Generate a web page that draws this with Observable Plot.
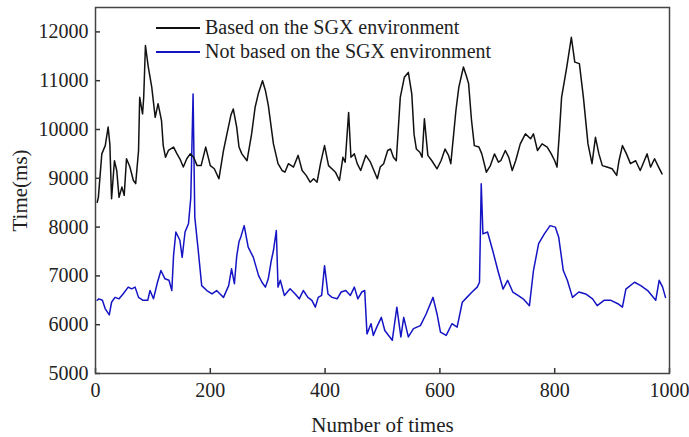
<!DOCTYPE html>
<html>
<head>
<meta charset="utf-8">
<script src="https://cdn.jsdelivr.net/npm/d3@7"></script>
<script src="https://cdn.jsdelivr.net/npm/@observablehq/plot@0.6"></script>
<style>
  body { margin: 0; background: #fff; }
  #wrap { position: relative; width: 689px; height: 437px; font-family: "Liberation Serif", "Times New Roman", serif; }
  .leg { position: absolute; left: 156px; display: flex; align-items: center; font-size: 20px; color: #222; white-space: nowrap; }
  .leg span.sw { display: inline-block; width: 44px; height: 0; border-top: 2px solid; margin-right: 5px; }
</style>
</head>
<body>
<div id="wrap"></div>
<script>
const seriesNames = ["Based on the SGX environment", "Not based on the SGX environment"];
const seriesColors = ["#111111", "#1414c4"];
const xTicks = [0, 200, 400, 600, 800, 1000];
const yTicks = [5000, 6000, 7000, 8000, 9000, 10000, 11000, 12000];

// [number of times, time in ms]
const sgx = [[3,8510],[5,8610],[11,9500],[17,9670],[22,10050],[25,9700],[28,8580],[33,9360],[37,9160],[41,8610],[46,8820],[50,8650],[54,9400],[60,9230],[66,8955],[70,8890],[75,9570],[77,10660],[82,10320],[84,10660],[87,11720],[92,11280],[98,10870],[104,10250],[109,10530],[115,10180],[118,9670],[122,9430],[127,9570],[136,9640],[142,9500],[147,9400],[153,9230],[159,9400],[165,9500],[171,9430],[177,9260],[184,9260],[192,9640],[200,9260],[207,9195],[215,8990],[223,9570],[229,9910],[236,10300],[240,10420],[246,10050],[250,9640],[255,9500],[264,9360],[272,9910],[278,10450],[284,10750],[291,11000],[296,10800],[301,10500],[310,9705],[318,9300],[325,9160],[330,9125],[336,9300],[345,9230],[353,9470],[360,9160],[367,9060],[374,8920],[380,8990],[386,8920],[392,9300],[399,9670],[406,9260],[415,9160],[418,9125],[425,8955],[431,9430],[435,9330],[441,10350],[445,9430],[451,9500],[456,9300],[462,9160],[471,9470],[479,9330],[485,9160],[491,8990],[496,9230],[502,9300],[509,9570],[514,9600],[519,9430],[524,9360],[531,10660],[538,11070],[545,11170],[551,10730],[555,9900],[559,9600],[565,9535],[569,9430],[573,10220],[579,9470],[586,9360],[595,9195],[602,9360],[609,9600],[615,9470],[619,9300],[624,9910],[628,10400],[633,10870],[641,11280],[646,11100],[650,10940],[655,10200],[660,9670],[668,9640],[673,9500],[681,9125],[688,9260],[695,9500],[702,9330],[706,9360],[714,9570],[720,9430],[726,9160],[732,9360],[740,9705],[749,9910],[758,9810],[763,9910],[770,9570],[778,9705],[787,9640],[794,9500],[800,9360],[804,9230],[808,9900],[812,10660],[821,11280],[829,11890],[835,11380],[843,11350],[850,10660],[858,9705],[865,9300],[871,9840],[877,9500],[883,9260],[891,9230],[900,9195],[908,9060],[912,9360],[918,9670],[925,9500],[932,9300],[941,9360],[949,9160],[955,9330],[961,9500],[967,9230],[974,9400],[981,9230],[987,9090]];

const noSgx = [[3,6500],[6,6530],[12,6500],[17,6325],[24,6200],[28,6460],[34,6560],[41,6530],[48,6630],[57,6770],[63,6735],[69,6770],[75,6560],[83,6500],[91,6500],[95,6700],[101,6530],[108,6870],[114,7110],[121,6940],[128,6910],[133,6700],[136,7420],[140,7900],[147,7730],[151,7380],[156,7900],[162,8070],[166,8600],[170,10730],[173,8200],[179,7520],[185,6800],[194,6700],[203,6630],[211,6700],[217,6630],[223,6560],[232,6800],[237,7145],[242,6840],[246,7400],[250,7700],[253,7790],[259,8030],[266,7590],[275,7380],[284,7010],[290,6870],[296,6770],[301,6940],[306,7300],[310,7520],[315,7930],[318,6770],[322,6910],[329,6600],[339,6735],[348,6630],[355,6530],[362,6700],[370,6560],[377,6500],[383,6360],[388,6560],[394,6600],[399,7210],[405,6630],[412,6560],[421,6530],[428,6670],[436,6700],[444,6600],[451,6770],[457,6530],[464,6670],[469,6700],[473,5810],[480,6020],[484,5780],[490,5950],[498,6150],[504,5880],[517,5680],[525,6360],[532,5750],[537,6150],[545,5750],[554,5920],[566,5980],[576,6220],[588,6560],[595,6220],[601,5850],[611,5780],[621,6020],[630,5950],[639,6460],[647,6560],[656,6670],[665,6770],[669,6870],[672,8890],[675,7860],[683,7900],[692,7520],[701,7110],[710,6730],[718,6910],[727,6670],[736,6600],[745,6530],[756,6390],[763,7110],[772,7660],[782,7860],[792,8030],[801,8000],[807,7790],[815,7110],[822,6910],[831,6560],[842,6670],[854,6630],[866,6530],[874,6390],[886,6500],[898,6500],[910,6430],[918,6360],[924,6730],[939,6870],[950,6800],[962,6700],[976,6500],[982,6910],[988,6770],[993,6560]];

const W = 689, H = 437, mL = 95, mR = 20, mT = 7, mB = 64;
const innerH = H - mT - mB, innerW = W - mL - mR;

const chart = Plot.plot({
  width: W, height: H,
  marginLeft: mL, marginRight: mR, marginTop: mT, marginBottom: mB,
  style: { fontFamily: "'Liberation Serif', 'Times New Roman', serif", fontSize: "20px", color: "#222", background: "#fff", overflow: "visible" },
  x: { domain: [0, 1000] },
  y: { domain: [5000, 12500] },
  marks: [
    Plot.line(noSgx, { x: d => d[0], y: d => d[1], stroke: seriesColors[1], strokeWidth: 1.5 }),
    Plot.line(sgx, { x: d => d[0], y: d => d[1], stroke: seriesColors[0], strokeWidth: 1.5 }),
    Plot.tickX(xTicks, { x: d => d, insetTop: innerH - 5, stroke: "#333", strokeWidth: 1.5 }),
    Plot.tickY(yTicks, { y: d => d, insetRight: innerW - 5, stroke: "#333", strokeWidth: 1.5 }),
    Plot.frame({ stroke: "#444", strokeWidth: 1.5 }),
    Plot.axisX({ ticks: xTicks, tickSize: 0, tickPadding: 9, tickFormat: d => String(d), label: "Number of times", labelAnchor: "center", labelArrow: "none", labelOffset: 58, fontSize: 20 }),
    Plot.axisY({ ticks: yTicks, tickSize: 0, tickPadding: 7, tickFormat: d => String(d), label: "Time(ms)", labelAnchor: "center", labelArrow: "none", labelOffset: 83, fontSize: 20 })
  ]
});
chart.querySelectorAll("[aria-label='x-axis label'] text, [aria-label='y-axis label'] text").forEach(t => t.style.fontSize = "21px");
const wrap = document.getElementById("wrap");
wrap.appendChild(chart);
const legTops = [16, 40];
seriesNames.forEach((n, i) => {
  const d = document.createElement("div");
  d.className = "leg";
  d.style.top = legTops[i] + "px";
  d.innerHTML = `<span class="sw" style="border-color:${seriesColors[i]}"></span><span>${n}</span>`;
  wrap.appendChild(d);
});
</script>
</body>
</html>
